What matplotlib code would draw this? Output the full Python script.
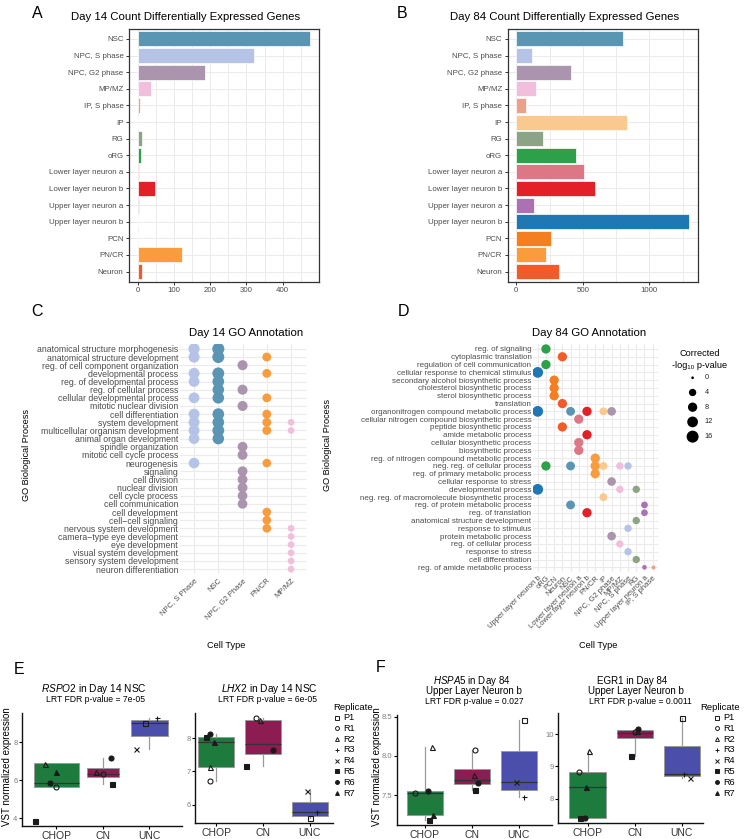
import numpy as np
import matplotlib
matplotlib.use("Agg")
import matplotlib.pyplot as plt

plt.rcParams['font.family'] = ['Liberation Sans', 'DejaVu Sans']
plt.rcParams['mathtext.fontset'] = 'custom'
plt.rcParams['mathtext.it'] = 'Liberation Sans:italic'
plt.rcParams['mathtext.rm'] = 'Liberation Sans'

# ---- panel A / B : DEG counts ----
cell_types = ["NSC", "NPC, S phase", "NPC, G2 phase", "MP/MZ", "IP, S phase", "IP", "RG", "oRG",
              "Lower layer neuron a", "Lower layer neuron b", "Upper layer neuron a",
              "Upper layer neuron b", "PCN", "PN/CR", "Neuron"]
cell_colors = ["#5b95b4", "#b4c3e6", "#ab94ae", "#f1bfdc", "#eca08a", "#f9c98f", "#8ca386", "#2ea04a",
               "#dd7785", "#e31f27", "#ab71b2", "#1f77b4", "#f47f20", "#f89c3e", "#f15a29"]
deg_day14 = [476, 320, 186, 38, 6, 1, 13, 9, 3, 49, 3, 2, 1, 121, 11]
deg_day84 = [803, 118, 409, 145, 70, 834, 201, 449, 510, 588, 133, 1301, 264, 221, 321]

# ---- panel C : day 14 GO ----
go14_terms = ["anatomical structure morphogenesis", "anatomical structure development",
              "reg. of cell component organization", "developmental process",
              "reg. of developmental process", "reg. of cellular process",
              "cellular developmental process", "mitotic nuclear division", "cell differentiation",
              "system development", "multicellular organism development", "animal organ development",
              "spindle organization", "mitotic cell cycle process", "neurogenesis", "signaling",
              "cell division", "nuclear division", "cell cycle process", "cell communication",
              "cell development", "cell\u2212cell signaling", "nervous system development",
              "camera\u2212type eye development", "eye development", "visual system development",
              "sensory system development", "neuron differentiation"]
go14_types = ["NPC, S Phase", "NSC", "NPC, G2 Phase", "PN/CR", "MP/MZ"]
go14_colors = ["#b4c3e6", "#5b95b4", "#ab94ae", "#f89c3e", "#f1bfdc"]
go14_rows = [[1, 2, 4, 5, 7, 9, 10, 11, 12, 15],
             [1, 2, 4, 5, 6, 7, 9, 10, 11, 12],
             [3, 6, 8, 13, 14, 16, 17, 18, 19, 20],
             [2, 4, 7, 9, 10, 11, 15, 21, 22, 23],
             [10, 11, 23, 24, 25, 26, 27, 28]]
go14_logp = [[13.5, 13, 12.5, 12, 12, 12.5, 12.5, 12.5, 12, 11.5],
             [16.5, 16, 15.5, 15, 14.5, 14.5, 15, 15, 15.5, 14.5],
             [10, 10, 10, 9.5, 9.5, 9.5, 9.5, 9.5, 9, 9],
             [7, 7, 7, 7, 7, 7, 6.5, 6.5, 6.5, 6.5],
             [3, 3, 3, 3, 3, 3, 3, 3]]

# ---- panel D : day 84 GO ----
go84_terms = ["reg. of signaling", "cytoplasmic translation", "regulation of cell communication",
              "cellular response to chemical stimulus", "secondary alcohol biosynthetic process",
              "cholesterol biosynthetic process", "sterol biosynthetic process", "translation",
              "organonitrogen compound metabolic process",
              "cellular nitrogen compound biosynthetic process", "peptide biosynthetic process",
              "amide metabolic process", "cellular biosynthetic process", "biosynthetic process",
              "reg. of nitrogen compound metabolic process", "neg. reg. of cellular process",
              "reg. of primary metabolic process", "cellular response to stress",
              "developmental process", "neg. reg. of macromolecule biosynthetic process",
              "reg. of protein metabolic process", "reg. of translation",
              "anatomical structure development", "response to stimulus",
              "protein metabolic process", "reg. of cellular process", "response to stress",
              "cell differentiation", "reg. of amide metabolic process"]
go84_types = ["Upper layer neuron b", "oRG", "PCN", "Neuron", "NSC", "Lower layer neuron a",
              "Lower layer neuron b", "PN/CR", "IP", "NPC, G2 phase", "MP/MZ", "NPC, S phase",
              "RG", "Upper layer neuron a", "IP, S phase"]
go84_rows = [[4, 9, 19], [1, 3, 16], [5, 6, 7], [2, 8, 11], [9, 16, 21], [10, 13, 14],
             [9, 12, 22], [15, 16, 17], [9, 16, 20], [9, 18, 25], [16, 19, 26], [16, 24, 27],
             [19, 23, 28], [21, 22, 29], [29]]
go84_logp = [[12, 12, 12], [8, 8, 8], [8, 8, 8], [8, 8, 8], [7, 7, 7], [8, 8, 8], [8, 8, 8],
             [8, 8, 8], [5, 5, 5], [6.5, 6.5, 6.5], [4, 4, 4], [4, 4, 4], [4, 4, 4],
             [3, 3, 0.7], [0.3]]
size_legend = [0, 4, 8, 12, 16]

# ---- panels E / F : boxplots ----
groups = ["CHOP", "CN", "UNC"]
group_colors = ["#1e7b3e", "#8c1c52", "#4b4fab"]
reps = ["P1", "R1", "R2", "R3", "R4", "R5", "R6", "R7"]
rep_markers = ["s", "o", "^", "+", "x", "s", "o", "^"]
rep_filled = [False, False, False, False, False, True, True, True]

rspo2_group = [0, 0, 0, 0, 0, 1, 1, 1, 1, 2, 2, 2]
rspo2_rep = ["R2", "R7", "R6", "R1", "R5", "R2", "R1", "R6", "R5", "P1", "R3", "R4"]
rspo2_val = [6.84, 6.45, 5.86, 5.64, 3.89, 6.45, 6.32, 7.16, 5.79, 9.0, 9.27, 7.64]
rspo2_jit = [-0.25, 0.0, -0.14, -0.02, -0.47, -0.15, 0.0, 0.17, 0.19, -0.1, 0.17, -0.29]
rspo2_q1 = [5.64, 6.18, 8.32]
rspo2_med = [5.86, 6.36, 9.0]
rspo2_q3 = [6.93, 6.63, 9.16]
rspo2_lo = [5.64, 5.79, 7.64]
rspo2_hi = [6.93, 7.16, 9.27]

lhx2_group = [0, 0, 0, 0, 0, 1, 1, 1, 1, 2, 2, 2]
lhx2_rep = ["R5", "R6", "R7", "R2", "R1", "R1", "R2", "R6", "R5", "R4", "R3", "P1"]
lhx2_val = [8.03, 8.12, 7.87, 7.13, 6.7, 8.6, 8.55, 7.65, 7.15, 6.42, 5.78, 5.59]
lhx2_jit = [-0.21, -0.14, -0.04, -0.14, -0.12, -0.14, -0.07, 0.21, -0.35, -0.05, 0.16, 0.0]
lhx2_q1 = [7.13, 7.52, 5.67]
lhx2_med = [7.87, 7.82, 5.78]
lhx2_q3 = [8.03, 8.55, 6.09]
lhx2_lo = [6.7, 7.15, 5.59]
lhx2_hi = [8.12, 8.6, 6.42]

hspa5_group = [0, 0, 0, 0, 0, 1, 1, 1, 1, 2, 2, 2]
hspa5_rep = ["R2", "R1", "R6", "R7", "R5", "R1", "R2", "R6", "R5", "P1", "R4", "R3"]
hspa5_val = [8.12, 7.52, 7.553, 7.247, 7.18, 8.08, 7.76, 7.66, 7.57, 8.46, 7.67, 7.48]
hspa5_jit = [0.15, -0.21, 0.06, 0.18, 0.08, 0.06, 0.05, 0.13, 0.06, 0.11, -0.07, 0.11]
hspa5_q1 = [7.247, 7.64, 7.57]
hspa5_med = [7.523, 7.69, 7.67]
hspa5_q3 = [7.553, 7.83, 8.06]
hspa5_lo = [7.18, 7.57, 7.48]
hspa5_hi = [8.12, 8.08, 8.46]

egr1_group = [0, 0, 0, 0, 0, 1, 1, 1, 1, 2, 2, 2]
egr1_rep = ["R2", "R1", "R7", "R5", "R6", "R1", "R6", "R2", "R5", "P1", "R3", "R4"]
egr1_val = [9.47, 8.84, 8.36, 7.39, 7.39, 10.07, 10.16, 10.11, 9.31, 10.5, 8.76, 8.64]
egr1_jit = [0.04, -0.18, -0.04, -0.16, -0.06, 0.0, 0.08, 0.04, -0.07, 0.01, 0.05, 0.17]
egr1_q1 = [7.39, 9.88, 8.69]
egr1_med = [8.35, 10.02, 8.76]
egr1_q3 = [8.84, 10.12, 9.62]
egr1_lo = [7.39, 9.31, 8.64]
egr1_hi = [9.47, 10.16, 10.5]

W, H = 747, 839
fig = plt.figure(figsize=(W / 100, H / 100), dpi=100)
GRAY30 = "#4d4d4d"
GRID = "#ebebeb"


def px_axes(x0, y0, x1, y1):
    return fig.add_axes([x0 / W, 1 - y1 / H, (x1 - x0) / W, (y1 - y0) / H])


def px_text(x, y, s, **kw):
    kw.setdefault("ha", "center")
    kw.setdefault("va", "center")
    fig.text(x / W, 1 - y / H, s, **kw)


def dot_area(v):
    d = 2.7 + 9.3 * np.sqrt(np.clip(np.asarray(v, float), 0, None) / 16)
    return (d * 0.72) ** 2


def bar_panel(box, values, title, tx, major, minor):
    ax = px_axes(*box)
    y = np.arange(len(cell_types))
    ax.barh(y, values, height=0.9, color=cell_colors, edgecolor="white", linewidth=0.5, zorder=3)
    m = max(values)
    ax.set_xlim(-0.05 * m, 1.05 * m)
    ax.set_ylim(len(cell_types) - 0.4, -0.6)
    ax.set_yticks(y, cell_types)
    ax.set_xticks(major)
    ax.set_xticks(minor, minor=True)
    ax.grid(True, which="both", color=GRID, lw=0.7, zorder=0)
    ax.set_axisbelow(True)
    for s in ax.spines.values():
        s.set_color("#333333")
        s.set_linewidth(0.9)
    ax.tick_params(labelsize=5.7, labelcolor=GRAY30, length=2.5, width=0.7, color="#333333", pad=1.5)
    ax.tick_params(which="minor", length=0)
    px_text(tx, 17, title, fontsize=8.2)


bar_panel((129, 29, 319, 281.5), deg_day14, "Day 14 Count Differentially Expressed Genes", 186,
          [0, 100, 200, 300, 400], [50, 150, 250, 350, 450])
bar_panel((507.7, 29, 698, 281.5), deg_day84, "Day 84 Count Differentially Expressed Genes", 565,
          [0, 500, 1000], [250, 750, 1250])

color_of = dict(zip(cell_types, cell_colors))


def dot_panel(box, terms, types, colors, rows, logp, ylab_size):
    ax = px_axes(*box)
    for j, (rr, pp) in enumerate(zip(rows, logp)):
        ax.scatter([j] * len(rr), np.array(rr) - 1, s=dot_area(pp), color=colors[j],
                   linewidths=0, zorder=3)
    ax.set_xlim(-0.6, len(types) - 0.4)
    ax.set_ylim(len(terms) - 0.4, -0.6)
    ax.set_yticks(np.arange(len(terms)), terms)
    ax.set_xticks(np.arange(len(types)))
    ax.set_xticklabels(types, rotation=45, ha="right", rotation_mode="anchor")
    ax.grid(True, color=GRID, lw=0.8, zorder=0)
    ax.set_axisbelow(True)
    for s in ax.spines.values():
        s.set_visible(False)
    ax.tick_params(axis="y", labelsize=ylab_size, labelcolor=GRAY30, length=0, pad=1)
    ax.tick_params(axis="x", labelsize=5.5, labelcolor=GRAY30, length=0, pad=2)
    return ax


dot_panel((179.5, 344, 305.6, 574), go14_terms, go14_types, go14_colors, go14_rows, go14_logp, 6.3)
dot_panel((532.8, 344.3, 657.6, 572), go84_terms, go84_types,
          [color_of[t] for t in go84_types], go84_rows, go84_logp, 5.8)
px_text(246, 333, "Day 14 GO Annotation", fontsize=8.2)
px_text(589, 333, "Day 84 GO Annotation", fontsize=8.2)
px_text(27, 455, "GO Biological Process", rotation=90, fontsize=6.6)
px_text(327, 445, "GO Biological Process", rotation=90, fontsize=6.6)
px_text(226, 645, "Cell Type", fontsize=6.6)
px_text(598, 645, "Cell Type", fontsize=6.6)

# size legend
px_text(700, 354, "Corrected", fontsize=6.6)
px_text(700, 366, "-log\u2081\u2080 p-value", fontsize=6.6)
lg = px_axes(686, 370.4, 730, 444)
lg.scatter([0.15] * len(size_legend), range(len(size_legend)), s=dot_area(size_legend),
           color="black", linewidths=0)
for i, v in enumerate(size_legend):
    lg.text(0.43, i, str(v), fontsize=5.3, va="center", ha="left", color="#222222")
lg.set_xlim(0, 1)
lg.set_ylim(len(size_legend) - 0.5, -0.5)
lg.axis("off")


def box_panel(box, xlim, widths, grp, rep, val, jit, q1, med, q3, lo, hi, ticks):
    ax = px_axes(*box)
    stats = [dict(q1=q1[i], med=med[i], q3=q3[i], whislo=lo[i], whishi=hi[i]) for i in range(3)]
    bp = ax.bxp(stats, positions=[0, 1, 2], widths=widths, patch_artist=True, showfliers=False,
                showcaps=False,
                boxprops=dict(edgecolor="#9a9a9a", linewidth=0.7),
                medianprops=dict(color="#333333", linewidth=0.9),
                whiskerprops=dict(color="#9a9a9a", linewidth=0.9))
    for p, c in zip(bp["boxes"], group_colors):
        p.set_facecolor(c)
    for g, r, v, j in zip(grp, rep, val, jit):
        k = reps.index(r)
        ax.plot(g + j, v, marker=rep_markers[k], ms=3.6, ls="none", zorder=5,
                mfc="#1a1a1a" if rep_filled[k] else "none", mec="#1a1a1a", mew=0.8)
    rng = max(val) - min(val)
    ax.set_ylim(min(val) - 0.05 * rng, max(val) + 0.05 * rng)
    ax.set_xlim(*xlim)
    ax.set_xticks([0, 1, 2], groups)
    ax.set_yticks(ticks)
    for s in ("top", "right"):
        ax.spines[s].set_visible(False)
    for s in ("left", "bottom"):
        ax.spines[s].set_linewidth(1.0)
        ax.spines[s].set_color("#111111")
    ax.tick_params(axis="x", labelsize=7.5, labelcolor="#333333", length=2, pad=1.5)
    ax.tick_params(axis="y", labelsize=5.5, labelcolor="#7f7f7f", length=2, pad=1)
    return ax


box_panel((21.7, 713, 181.7, 825.7), (-0.75, 2.7), [0.95, 0.7, 0.8],
          rspo2_group, rspo2_rep, rspo2_val, rspo2_jit,
          rspo2_q1, rspo2_med, rspo2_q3, rspo2_lo, rspo2_hi, [4, 6, 8])
box_panel((195, 713, 333, 823.3), (-0.45, 2.5), 0.77,
          lhx2_group, lhx2_rep, lhx2_val, lhx2_jit,
          lhx2_q1, lhx2_med, lhx2_q3, lhx2_lo, lhx2_hi, [6, 7, 8])
box_panel((396.7, 715, 551.7, 825), (-0.6, 2.7), 0.77,
          hspa5_group, hspa5_rep, hspa5_val, hspa5_jit,
          hspa5_q1, hspa5_med, hspa5_q3, hspa5_lo, hspa5_hi, [7.5, 8.0, 8.5])
box_panel((558.3, 713, 703, 823.3), (-0.62, 2.45), 0.77,
          egr1_group, egr1_rep, egr1_val, egr1_jit,
          egr1_q1, egr1_med, egr1_q3, egr1_lo, egr1_hi, [8, 9, 10])

px_text(94, 688.5, r"$\it{RSPO2}$ in Day 14 NSC", fontsize=7.3)
px_text(95, 700, "LRT FDR p-value = 7e-05", fontsize=6.2)
px_text(269, 688.5, r"$\it{LHX2}$ in Day 14 NSC", fontsize=7.3)
px_text(268, 700, "LRT FDR p-value = 6e-05", fontsize=6.2)
px_text(472, 680.5, r"$\it{HSPA5}$ in Day 84", fontsize=7.0)
px_text(474, 691.5, "Upper Layer Neuron b", fontsize=7.0)
px_text(474, 701.5, "LRT FDR p-value = 0.027", fontsize=6.2)
px_text(632, 680.5, "EGR1 in Day 84", fontsize=7.0)
px_text(636, 691.5, "Upper Layer Neuron b", fontsize=7.0)
px_text(640, 701.5, "LRT FDR p-value = 0.0011", fontsize=6.2)
px_text(7, 767, "VST normalized expression", rotation=90, fontsize=7)
px_text(377, 767, "VST normalized expression", rotation=90, fontsize=7)


def rep_legend(x0, title_x):
    px_text(title_x, 707.5, "Replicate", fontsize=6.8, ha="left")
    la = px_axes(x0, 712.3, x0 + 40, 798.4)
    for i, r in enumerate(reps):
        la.plot(4, i, marker=rep_markers[i], ms=2.8, ls="none",
                mfc="#1a1a1a" if rep_filled[i] else "none", mec="#1a1a1a", mew=0.7)
        la.text(10, i, r, fontsize=6.6, va="center", ha="left")
    la.set_xlim(0, 40)
    la.set_ylim(len(reps) - 0.5, -0.5)
    la.axis("off")


rep_legend(333, 333)
rep_legend(713, 700)

for lab, x, y in [("A", 37, 13), ("B", 402, 13), ("C", 37, 312), ("D", 403, 312),
                  ("E", 19, 670), ("F", 381, 667)]:
    px_text(x, y, lab, fontsize=11.5)

fig.savefig("out.png", dpi=100)
